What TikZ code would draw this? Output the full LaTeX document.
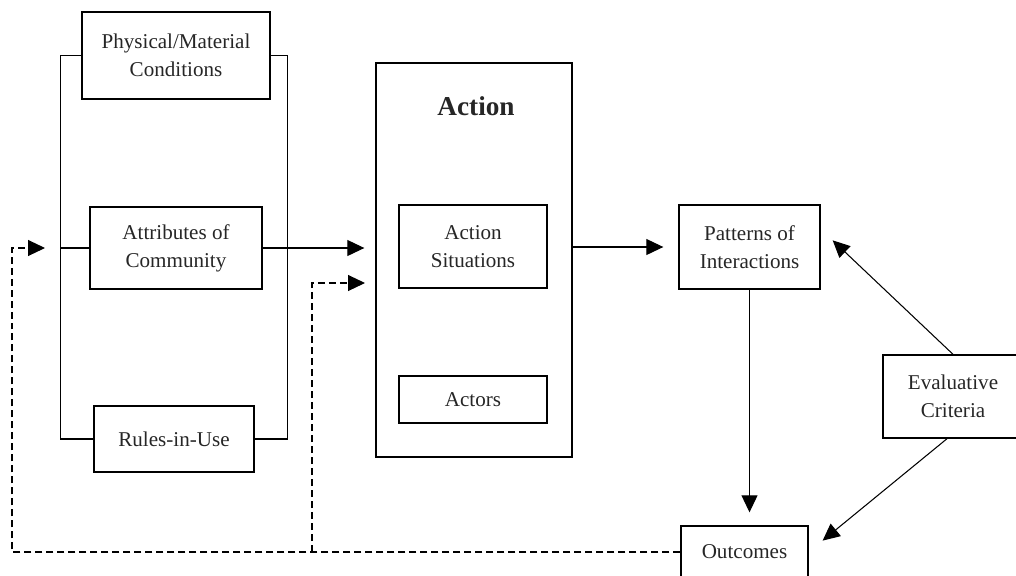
\documentclass[tikz,border=0pt]{standalone}
\usepackage{fontspec}
\setmainfont{Liberation Serif}
\usetikzlibrary{arrows.meta}

\begin{document}
\begin{tikzpicture}[x=0.02cm,y=-0.02cm,
        box/.style={draw,line width=0.8pt,align=center,inner sep=2pt,text=black!85,font=\fontsize{12}{16}\selectfont},
        link/.style={line width=0.6pt},
        arr/.style={link,-{Triangle[length=3.4mm,width=3.2mm]}},
        fb/.style={arr,dash pattern=on 1.4mm off 0.8mm}]

    \useasboundingbox (0,0) rectangle (1016,575);
    \clip (0,0) rectangle (1016,575);

    % context on the left
    \node[box,minimum width=3.76cm,minimum height=1.74cm] (phys) at (176,55.5) {Physical/Material\\Conditions};
    \node[box,minimum width=3.44cm,minimum height=1.64cm] (attr) at (176,248) {Attributes of\\Community};
    \node[box,minimum width=3.2cm,minimum height=1.32cm] (rules) at (174,439) {Rules-in-Use};

    % action arena
    \node[box,minimum width=3.92cm,minimum height=7.88cm] (action) at (474,260) {};
    \node[text=black!85,font=\fontsize{15.5}{18}\selectfont\bfseries] (acttitle) at (476,106) {Action};
    \node[box,minimum width=2.96cm,minimum height=1.66cm] (sit) at (473,246.5) {Action\\Situations};
    \node[box,minimum width=2.96cm,minimum height=0.94cm] (actors) at (473,399.5) {Actors};

    % right side
    \node[box,minimum width=2.82cm,minimum height=1.68cm] (pat) at (749.5,247) {Patterns of\\Interactions};
    \node[box,minimum width=2.54cm,minimum height=1.04cm] (out) at (744.5,552) {Outcomes};
    \node[box,minimum width=2.8cm,minimum height=1.66cm] (eval) at (953,396.5) {Evaluative\\Criteria};

    \coordinate (bl) at (61,248);
    \coordinate (fbc) at (12,248);
    \coordinate (fbj) at (312,552);
    \coordinate (actin) at (376,283);

    % bracket
    \draw[link] (phys.west) -- ++(-21,0) |- (rules.west);
    \draw[link] (phys.east) -- ++(17,0) |- (rules.east);
    \draw[link] (bl) -- (attr.west);

    % arrows
    \draw[arr,shorten >=0.22cm] (attr.east) -- (attr.east -| action.west);
    \draw[arr,shorten >=0.3cm] (action.east |- pat.west) -- (pat.west);
    \draw[arr,shorten >=0.26cm] (pat.south) -- (pat.south |- out.north);
    \draw[arr,shorten >=0.33cm] (eval.north) -- ([yshift=0.36cm]pat.east);
    \draw[arr,shorten >=0.36cm] ([xshift=-0.12cm]eval.south) -- (out.east);

    % feedback
    \draw[fb,shorten >=0.32cm] (out.west) -| (fbc) -- (bl);
    \draw[fb,shorten >=0.22cm] (fbj) |- (actin);
\end{tikzpicture}
\end{document}
